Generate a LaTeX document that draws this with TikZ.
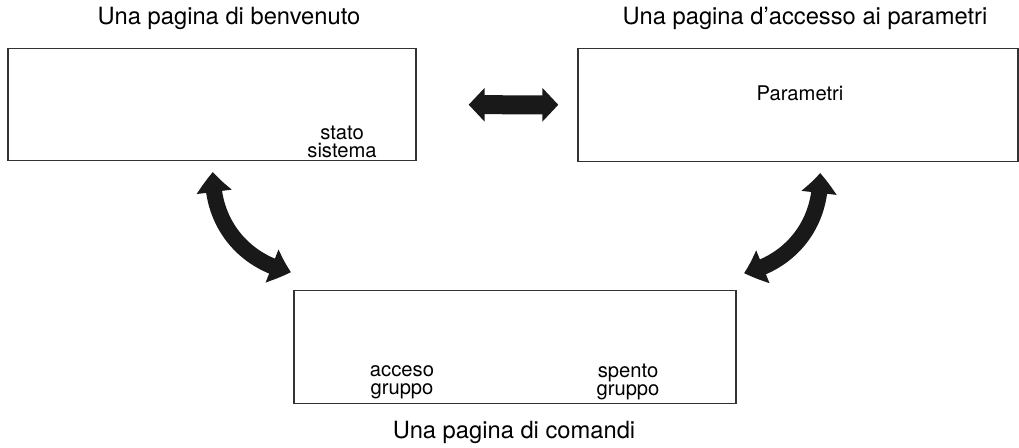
\documentclass[tikz,border=0pt]{standalone}
\usepackage{fontspec}
\setmainfont{TeX Gyre Heros}
\usetikzlibrary{arrows.meta,bending}
\tikzset{
  pagina/.style={draw=black!80, line width=0.8pt, minimum width=#1, minimum height=2.25cm, inner sep=0pt},
  titolo/.style={font=\fontsize{13.5}{15}\selectfont},
  testo/.style={font=\fontsize{11.5}{10.5}\selectfont, align=center},
  frecciona/.style={draw=black!90, line width=0.38cm,
    {Triangle[length=0.32cm, width=0.66cm]}-{Triangle[length=0.32cm, width=0.66cm]}},
  frecciacurva/.style={draw=black!90, line width=0.32cm,
    {Triangle[length=0.4cm, width=0.68cm, bend]}-{Triangle[length=0.4cm, width=0.68cm, bend]}}
}
\begin{document}
\begin{tikzpicture}
    \useasboundingbox (0,0) rectangle (20.38,8.94);

    % pagine
    \node[pagina=8.16cm] (benvenuto) at (4.24,6.85) {};
    \node[pagina=8.8cm] (accesso) at (15.96,6.84) {};
    \node[pagina=8.84cm] (comandi) at (10.3,2.0) {};

    % titoli
    \node[titolo] (tbenvenuto) at (4.58,8.58) {Una pagina di benvenuto};
    \node[titolo] (taccesso) at (16.1,8.58) {Una pagina d’accesso ai parametri};
    \node[titolo] (tcomandi) at (10.28,0.3) {Una pagina di comandi};

    % testi nelle pagine
    \node[testo] (stato) at (6.84,6.1) {stato\\sistema};
    \node[testo] (parametri) at (16.0,7.08) {Parametri};
    \node[testo] (acceso) at (8.04,1.3) {acceso\\gruppo};
    \node[testo] (spento) at (12.56,1.3) {spento\\gruppo};

    % frecce
    \draw[frecciona, shorten <=1.04cm, shorten >=0.38cm] (benvenuto) -- (accesso);

    \coordinate (sx1) at (4.26,5.5);
    \coordinate (sx2) at (5.82,3.5);
    \draw[frecciacurva] (sx1) to[bend right=40] (sx2);

    \coordinate (dx1) at (16.4,5.48);
    \coordinate (dx2) at (14.88,3.48);
    \draw[frecciacurva] (dx1) to[bend left=40] (dx2);
\end{tikzpicture}
\end{document}
